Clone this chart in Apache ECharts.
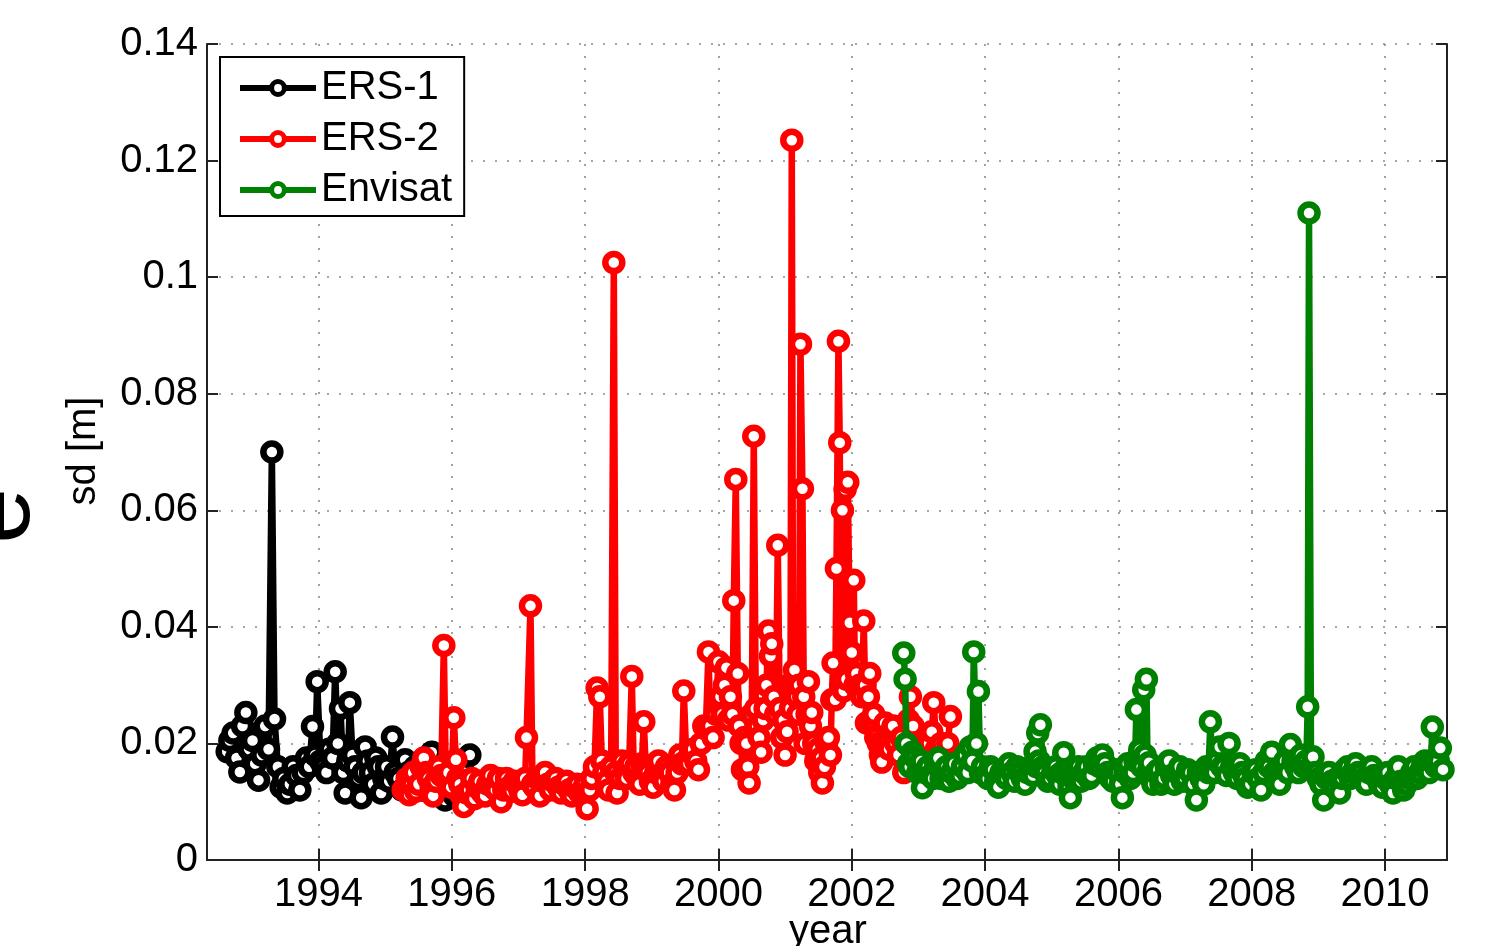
<!DOCTYPE html>
<html>
<head>
<meta charset="utf-8">
<script src="https://cdn.jsdelivr.net/npm/echarts@6/dist/echarts.min.js"></script>
<style>
html,body{margin:0;padding:0;background:#fff;}
#chart{width:1497px;height:946px;}
</style>
</head>
<body>
<div id="chart"></div>
<script>
// ---------------- data ----------------
const xTicks = [1994, 1996, 1998, 2000, 2002, 2004, 2006, 2008, 2010];
const seriesNames = ['ERS-1', 'ERS-2', 'Envisat'];
const seriesColors = ['#000000', '#ff0000', '#008000'];

// [decimal year, sd in m]
const ers1 = [
[1992.63,0.0186],[1992.67,0.0205],[1992.72,0.0218],[1992.77,0.0175],[1992.82,0.0151],[1992.86,0.0230],[1992.91,0.0253],[1992.96,0.0190],
[1993.01,0.0205],[1993.05,0.0165],[1993.10,0.0137],[1993.15,0.0180],[1993.20,0.0230],[1993.25,0.0190],[1993.30,0.0700],[1993.34,0.0242],
[1993.39,0.0160],[1993.44,0.0125],[1993.48,0.0140],[1993.53,0.0115],[1993.57,0.0130],[1993.62,0.0160],[1993.67,0.0145],[1993.72,0.0120],
[1993.77,0.0150],[1993.82,0.0175],[1993.86,0.0160],[1993.91,0.0229],[1993.95,0.0180],[1993.98,0.0306],[1994.03,0.0170],[1994.07,0.0160],
[1994.12,0.0150],[1994.16,0.0190],[1994.21,0.0175],[1994.25,0.0323],[1994.29,0.0200],[1994.33,0.0260],[1994.37,0.0150],[1994.40,0.0115],
[1994.44,0.0170],[1994.47,0.0270],[1994.51,0.0180],[1994.55,0.0160],[1994.60,0.0140],[1994.64,0.0107],[1994.67,0.0150],[1994.70,0.0194],
[1994.74,0.0170],[1994.78,0.0150],[1994.82,0.0130],[1994.86,0.0175],[1994.90,0.0160],[1994.94,0.0115],[1994.98,0.0140],[1995.02,0.0160],
[1995.06,0.0135],[1995.11,0.0211],[1995.15,0.0150],[1995.20,0.0140],[1995.25,0.0120],[1995.30,0.0172],[1995.35,0.0150],[1995.40,0.0130],
[1995.45,0.0160],[1995.50,0.0145],[1995.55,0.0120],[1995.60,0.0125],[1995.65,0.0150],[1995.70,0.0185],[1995.75,0.0140],[1995.80,0.0120],
[1995.85,0.0130],[1995.90,0.0103],[1995.94,0.0120],[1995.99,0.0140],[1996.04,0.0110],[1996.08,0.0125],[1996.13,0.0140],[1996.18,0.0150],
[1996.22,0.0130],[1996.27,0.0180]
];

const ers2 = [
[1995.27,0.0120],[1995.30,0.0125],[1995.33,0.0140],[1995.36,0.0112],[1995.39,0.0130],[1995.42,0.0150],[1995.46,0.0118],[1995.50,0.0130],
[1995.54,0.0160],[1995.58,0.0175],[1995.62,0.0150],[1995.65,0.0140],[1995.69,0.0125],[1995.72,0.0110],[1995.76,0.0135],[1995.80,0.0160],
[1995.84,0.0145],[1995.88,0.0368],[1995.91,0.0140],[1995.95,0.0150],[1995.99,0.0125],[1996.03,0.0244],[1996.06,0.0172],[1996.09,0.0140],
[1996.12,0.0130],[1996.15,0.0110],[1996.18,0.0092],[1996.22,0.0115],[1996.26,0.0120],[1996.30,0.0140],[1996.34,0.0105],[1996.38,0.0125],
[1996.42,0.0135],[1996.46,0.0115],[1996.50,0.0110],[1996.54,0.0130],[1996.58,0.0145],[1996.62,0.0125],[1996.66,0.0120],[1996.70,0.0140],
[1996.74,0.0100],[1996.78,0.0120],[1996.82,0.0140],[1996.86,0.0125],[1996.90,0.0118],[1996.94,0.0135],[1996.98,0.0130],[1997.02,0.0120],
[1997.06,0.0112],[1997.10,0.0140],[1997.12,0.0210],[1997.18,0.0436],[1997.21,0.0130],[1997.24,0.0125],[1997.28,0.0140],[1997.32,0.0110],
[1997.36,0.0135],[1997.40,0.0150],[1997.44,0.0130],[1997.48,0.0120],[1997.52,0.0135],[1997.56,0.0140],[1997.60,0.0125],[1997.64,0.0115],
[1997.68,0.0130],[1997.72,0.0135],[1997.76,0.0120],[1997.80,0.0110],[1997.84,0.0125],[1997.88,0.0130],[1997.92,0.0115],[1997.96,0.0120],
[1998.00,0.0130],[1998.03,0.0088],[1998.07,0.0120],[1998.10,0.0140],[1998.14,0.0160],[1998.18,0.0295],[1998.22,0.0280],[1998.25,0.0170],
[1998.28,0.0150],[1998.32,0.0135],[1998.35,0.0120],[1998.39,0.0160],[1998.43,0.1025],[1998.46,0.0150],[1998.48,0.0115],[1998.52,0.0140],
[1998.55,0.0170],[1998.59,0.0155],[1998.62,0.0140],[1998.66,0.0165],[1998.70,0.0315],[1998.73,0.0150],[1998.76,0.0160],[1998.79,0.0140],
[1998.82,0.0130],[1998.85,0.0165],[1998.88,0.0237],[1998.91,0.0160],[1998.94,0.0150],[1998.98,0.0135],[1999.02,0.0125],[1999.06,0.0150],
[1999.10,0.0170],[1999.14,0.0145],[1999.18,0.0135],[1999.22,0.0160],[1999.26,0.0150],[1999.30,0.0130],[1999.34,0.0120],[1999.38,0.0150],
[1999.42,0.0180],[1999.45,0.0165],[1999.48,0.0290],[1999.52,0.0170],[1999.55,0.0165],[1999.58,0.0185],[1999.62,0.0190],[1999.66,0.0170],
[1999.70,0.0155],[1999.74,0.0200],[1999.78,0.0230],[1999.81,0.0225],[1999.85,0.0357],[1999.88,0.0230],[1999.92,0.0210],[1999.96,0.0250],
[2000.00,0.0340],[2000.03,0.0280],[2000.06,0.0250],[2000.09,0.0300],[2000.12,0.0330],[2000.15,0.0240],[2000.18,0.0280],[2000.21,0.0250],
[2000.23,0.0445],[2000.26,0.0653],[2000.29,0.0320],[2000.31,0.0230],[2000.34,0.0200],[2000.36,0.0155],[2000.39,0.0210],[2000.42,0.0200],
[2000.44,0.0160],[2000.46,0.0132],[2000.50,0.0250],[2000.53,0.0727],[2000.56,0.0260],[2000.58,0.0230],[2000.61,0.0210],[2000.64,0.0185],
[2000.67,0.0240],[2000.70,0.0260],[2000.72,0.0300],[2000.75,0.0393],[2000.78,0.0350],[2000.80,0.0371],[2000.83,0.0280],[2000.86,0.0250],
[2000.89,0.0540],[2000.92,0.0260],[2000.95,0.0210],[2000.98,0.0240],[2001.00,0.0180],[2001.03,0.0220],[2001.05,0.0300],[2001.08,0.0260],
[2001.10,0.1235],[2001.12,0.0300],[2001.14,0.0326],[2001.17,0.0280],[2001.19,0.0250],[2001.21,0.0300],[2001.23,0.0885],[2001.26,0.0637],
[2001.28,0.0280],[2001.30,0.0200],[2001.33,0.0250],[2001.35,0.0306],[2001.38,0.0230],[2001.40,0.0253],[2001.43,0.0200],[2001.46,0.0170],
[2001.49,0.0190],[2001.52,0.0150],[2001.54,0.0175],[2001.56,0.0132],[2001.59,0.0160],[2001.62,0.0200],[2001.65,0.0210],[2001.68,0.0180],
[2001.70,0.0275],[2001.72,0.0338],[2001.75,0.0275],[2001.77,0.0500],[2001.80,0.0890],[2001.82,0.0716],[2001.84,0.0300],[2001.86,0.0600],
[2001.88,0.0290],[2001.90,0.0636],[2001.92,0.0310],[2001.94,0.0648],[2001.97,0.0407],[2002.00,0.0356],[2002.03,0.0480],[2002.05,0.0300],
[2002.07,0.0320],[2002.10,0.0290],[2002.12,0.0300],[2002.15,0.0280],[2002.18,0.0410],[2002.20,0.0300],[2002.22,0.0235],[2002.25,0.0280],
[2002.27,0.0320],[2002.30,0.0240],[2002.33,0.0250],[2002.36,0.0210],[2002.40,0.0200],[2002.43,0.0180],[2002.45,0.0168],[2002.48,0.0200],
[2002.50,0.0235],[2002.53,0.0210],[2002.56,0.0190],[2002.59,0.0220],[2002.62,0.0230],[2002.66,0.0200],[2002.70,0.0180],[2002.74,0.0210],
[2002.78,0.0150],[2002.82,0.0200],[2002.85,0.0240],[2002.88,0.0280],[2002.92,0.0230],[2002.95,0.0200],[2002.99,0.0170],[2003.02,0.0180],
[2003.06,0.0200],[2003.10,0.0160],[2003.13,0.0190],[2003.16,0.0200],[2003.20,0.0220],[2003.23,0.0270],[2003.27,0.0190],[2003.30,0.0170],
[2003.34,0.0200],[2003.38,0.0150],[2003.41,0.0180],[2003.44,0.0200],[2003.48,0.0246]
];

const envisat = [
[2002.78,0.0355],[2002.80,0.0310],[2002.82,0.0200],[2002.85,0.0165],[2002.87,0.0160],[2002.91,0.0185],[2002.95,0.0175],[2002.99,0.0150],
[2003.02,0.0150],[2003.04,0.0170],[2003.06,0.0124],[2003.10,0.0150],[2003.14,0.0160],[2003.18,0.0145],[2003.22,0.0140],[2003.26,0.0165],
[2003.30,0.0175],[2003.34,0.0140],[2003.38,0.0150],[2003.42,0.0160],[2003.46,0.0135],[2003.50,0.0150],[2003.54,0.0165],[2003.58,0.0140],
[2003.62,0.0145],[2003.66,0.0160],[2003.70,0.0180],[2003.74,0.0150],[2003.78,0.0194],[2003.81,0.0170],[2003.83,0.0357],[2003.87,0.0200],
[2003.90,0.0289],[2003.93,0.0150],[2003.96,0.0160],[2004.00,0.0145],[2004.04,0.0140],[2004.08,0.0160],[2004.12,0.0155],[2004.16,0.0135],
[2004.20,0.0125],[2004.24,0.0150],[2004.28,0.0150],[2004.32,0.0140],[2004.36,0.0165],[2004.40,0.0150],[2004.44,0.0135],[2004.48,0.0160],
[2004.52,0.0150],[2004.56,0.0140],[2004.60,0.0130],[2004.64,0.0150],[2004.68,0.0160],[2004.72,0.0145],[2004.75,0.0186],[2004.77,0.0160],
[2004.79,0.0218],[2004.81,0.0170],[2004.83,0.0232],[2004.87,0.0160],[2004.90,0.0150],[2004.94,0.0135],[2004.98,0.0140],[2005.02,0.0155],
[2005.06,0.0160],[2005.09,0.0145],[2005.12,0.0130],[2005.15,0.0150],[2005.18,0.0184],[2005.21,0.0150],[2005.24,0.0140],[2005.26,0.0125],
[2005.28,0.0107],[2005.32,0.0140],[2005.36,0.0150],[2005.40,0.0160],[2005.44,0.0135],[2005.48,0.0150],[2005.52,0.0160],[2005.56,0.0140],
[2005.60,0.0145],[2005.64,0.0165],[2005.68,0.0175],[2005.72,0.0160],[2005.76,0.0180],[2005.80,0.0165],[2005.84,0.0150],[2005.88,0.0140],
[2005.92,0.0135],[2005.96,0.0155],[2006.00,0.0150],[2006.03,0.0130],[2006.06,0.0107],[2006.10,0.0150],[2006.14,0.0165],[2006.18,0.0140],
[2006.22,0.0150],[2006.25,0.0170],[2006.27,0.0258],[2006.30,0.0170],[2006.32,0.0189],[2006.35,0.0160],[2006.38,0.0292],[2006.40,0.0180],
[2006.42,0.0310],[2006.44,0.0150],[2006.46,0.0167],[2006.49,0.0140],[2006.52,0.0130],[2006.56,0.0150],[2006.60,0.0155],[2006.64,0.0130],
[2006.68,0.0140],[2006.72,0.0160],[2006.76,0.0170],[2006.80,0.0145],[2006.84,0.0130],[2006.88,0.0150],[2006.92,0.0160],[2006.96,0.0135],
[2007.00,0.0140],[2007.04,0.0155],[2007.08,0.0150],[2007.12,0.0130],[2007.17,0.0103],[2007.20,0.0150],[2007.24,0.0140],[2007.28,0.0130],
[2007.32,0.0160],[2007.35,0.0150],[2007.38,0.0237],[2007.41,0.0160],[2007.44,0.0150],[2007.48,0.0170],[2007.52,0.0194],[2007.55,0.0160],
[2007.58,0.0160],[2007.62,0.0145],[2007.66,0.0200],[2007.70,0.0160],[2007.74,0.0150],[2007.78,0.0140],[2007.82,0.0165],[2007.86,0.0150],
[2007.90,0.0140],[2007.94,0.0125],[2007.98,0.0130],[2008.02,0.0150],[2008.06,0.0155],[2008.10,0.0140],[2008.14,0.0120],[2008.18,0.0150],
[2008.22,0.0170],[2008.26,0.0160],[2008.30,0.0185],[2008.34,0.0150],[2008.38,0.0140],[2008.42,0.0130],[2008.46,0.0160],[2008.50,0.0170],
[2008.54,0.0150],[2008.58,0.0198],[2008.62,0.0170],[2008.66,0.0160],[2008.70,0.0150],[2008.74,0.0180],[2008.78,0.0160],[2008.82,0.0170],
[2008.84,0.0263],[2008.86,0.1110],[2008.89,0.0160],[2008.92,0.0177],[2008.96,0.0150],[2009.00,0.0140],[2009.04,0.0130],[2009.08,0.0103],
[2009.12,0.0140],[2009.16,0.0150],[2009.20,0.0135],[2009.24,0.0125],[2009.28,0.0140],[2009.32,0.0115],[2009.36,0.0140],[2009.40,0.0155],
[2009.44,0.0160],[2009.48,0.0140],[2009.52,0.0150],[2009.56,0.0165],[2009.60,0.0150],[2009.64,0.0150],[2009.68,0.0140],[2009.72,0.0130],
[2009.76,0.0150],[2009.80,0.0160],[2009.84,0.0145],[2009.88,0.0140],[2009.92,0.0130],[2009.96,0.0125],[2010.00,0.0140],[2010.04,0.0150],
[2010.08,0.0130],[2010.12,0.0115],[2010.16,0.0140],[2010.20,0.0160],[2010.24,0.0135],[2010.28,0.0120],[2010.32,0.0130],[2010.36,0.0140],
[2010.40,0.0150],[2010.44,0.0160],[2010.48,0.0140],[2010.52,0.0150],[2010.56,0.0160],[2010.60,0.0170],[2010.63,0.0155],[2010.66,0.0150],
[2010.69,0.0170],[2010.71,0.0228],[2010.74,0.0165],[2010.76,0.0160],[2010.80,0.0170],[2010.83,0.0192],[2010.87,0.0155]
];

// ---------------- chart ----------------
const FONT = "'Liberation Sans', Arial, Helvetica, sans-serif";
const allData = [ers1, ers2, envisat];

const X_MIN = 1992.327, X_MAX = 2010.93;
const frameLine = { show: true, lineStyle: { color: '#222', width: 2 } };
const tickStyle = { color: '#222', width: 2 };
const gridDots = { show: true, lineStyle: { color: '#8a8a8a', width: 1.6, type: [2, 10] } };

const chart = echarts.init(document.getElementById('chart'), null, { renderer: 'canvas' });
chart.setOption({
  animation: false,
  backgroundColor: '#ffffff',
  grid: { left: 207, right: 50, top: 44, bottom: 86, containLabel: false },
  legend: {
    data: seriesNames,
    orient: 'vertical',
    left: 220, top: 57,
    padding: [11, 12, 6, 17],
    itemGap: 11,
    itemWidth: 76, itemHeight: 16,
    itemTextGap: 14,
    backgroundColor: '#fff',
    borderColor: '#000', borderWidth: 2, borderRadius: 0,
    textStyle: { fontSize: 40, color: '#000', fontFamily: FONT },
    itemStyle: { borderWidth: 5 },
    lineStyle: { width: 6 }
  },
  xAxis: [
    {
      type: 'value', position: 'bottom', min: X_MIN, max: X_MAX,
      axisLine: frameLine,
      axisTick: { show: true, inside: true, length: 11, customValues: xTicks, lineStyle: tickStyle },
      axisLabel: { show: true, customValues: xTicks, fontSize: 40, color: '#000', fontFamily: FONT, margin: 15, formatter: v => String(Math.round(v)) },
      splitLine: gridDots
    },
    {
      type: 'value', position: 'top', min: X_MIN, max: X_MAX,
      axisLine: frameLine,
      axisTick: { show: true, inside: true, length: 11, customValues: xTicks, lineStyle: tickStyle },
      axisLabel: { show: false },
      splitLine: { show: false }
    }
  ],
  yAxis: [
    {
      type: 'value', position: 'left', min: 0, max: 0.14, interval: 0.02,
      axisLine: frameLine,
      axisTick: { show: true, inside: true, length: 11, lineStyle: tickStyle },
      axisLabel: { show: true, fontSize: 40, color: '#000', fontFamily: FONT, margin: 9,
        formatter: v => String(parseFloat(v.toFixed(2))) },
      splitLine: gridDots
    },
    {
      type: 'value', position: 'right', min: 0, max: 0.14, interval: 0.02,
      axisLine: frameLine,
      axisTick: { show: true, inside: true, length: 11, lineStyle: tickStyle },
      axisLabel: { show: false },
      splitLine: { show: false }
    }
  ],
  series: seriesNames.map((name, i) => ({
    name: name,
    type: 'line',
    xAxisIndex: 0, yAxisIndex: 0,
    data: allData[i],
    symbol: 'circle',
    symbolSize: 17,
    showSymbol: true,
    showAllSymbol: true,
    lineStyle: { color: seriesColors[i], width: 6.5 },
    itemStyle: { color: '#ffffff', borderColor: seriesColors[i], borderWidth: 6.5 },
    emphasis: { disabled: true },
    z: 2 + i
  })),
  graphic: [
    { type: 'text', x: 84, y: 451, rotation: Math.PI / 2,
      style: { text: 'sd [m]', font: '40px ' + FONT, fill: '#000', align: 'center', verticalAlign: 'middle' } },
    { type: 'text', x: 828, y: 932,
      style: { text: 'year', font: '40px ' + FONT, fill: '#000', align: 'center', verticalAlign: 'middle' } },
    { type: 'text', x: 1, y: 516, rotation: Math.PI / 2,
      style: { text: 'e', font: '100px ' + FONT, fill: '#000', align: 'center', verticalAlign: 'middle' } }
  ]
});
</script>
</body>
</html>
